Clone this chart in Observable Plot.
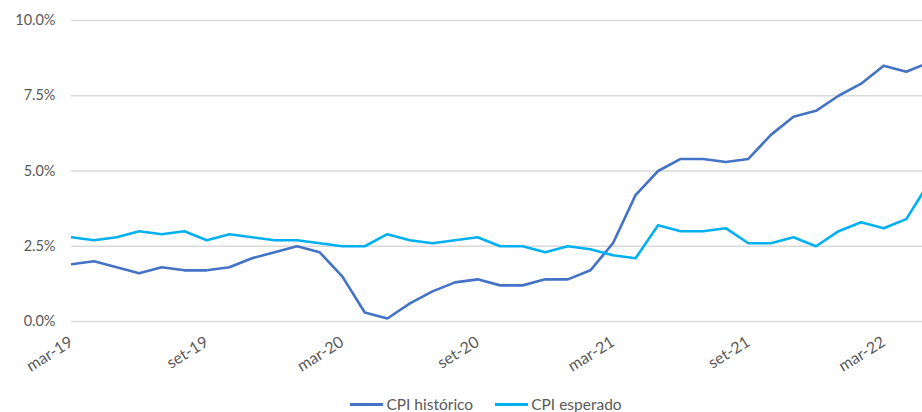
<!DOCTYPE html>
<html><head><meta charset="utf-8">
<script src="https://cdn.jsdelivr.net/npm/d3@7"></script>
<script src="https://cdn.jsdelivr.net/npm/@observablehq/plot@0.6"></script>
<style>
body{margin:0;background:#fff;font-family:Lato,"Open Sans",sans-serif;overflow:hidden;width:922px;height:412px}
#legend{display:flex;justify-content:center;align-items:center;gap:22px;margin-top:4px;height:20px;font-size:15.5px;color:#595959;padding-left:50px}
.item{display:flex;align-items:center;gap:3px}
.sw{display:inline-block;width:33px;height:3px}
</style></head><body><div id="chart"></div><div id="legend"></div>
<script>
const months = ["mar-19","abr-19","mai-19","jun-19","jul-19","ago-19","set-19","out-19","nov-19","dez-19",
"jan-20","fev-20","mar-20","abr-20","mai-20","jun-20","jul-20","ago-20","set-20","out-20","nov-20","dez-20",
"jan-21","fev-21","mar-21","abr-21","mai-21","jun-21","jul-21","ago-21","set-21","out-21","nov-21","dez-21",
"jan-22","fev-22","mar-22","abr-22","mai-22"];
const cpiHistorico = [1.9,2.0,1.8,1.6,1.8,1.7,1.7,1.8,2.1,2.3,2.5,2.3,1.5,0.3,0.1,0.6,1.0,1.3,1.4,1.2,1.2,1.4,1.4,1.7,2.6,4.2,5.0,5.4,5.4,5.3,5.4,6.2,6.8,7.0,7.5,7.9,8.5,8.3,8.6];
const cpiEsperado = [2.8,2.7,2.8,3.0,2.9,3.0,2.7,2.9,2.8,2.7,2.7,2.6,2.5,2.5,2.9,2.7,2.6,2.7,2.8,2.5,2.5,2.3,2.5,2.4,2.2,2.1,3.2,3.0,3.0,3.1,2.6,2.6,2.8,2.5,3.0,3.3,3.1,3.4,4.6];
const seriesNames = ["CPI histórico","CPI esperado"];
const seriesColors = ["#4472C4","#00B0F0"];
const yTicks = [0,2.5,5,7.5,10];
const xTickLabels = ["mar-19","set-19","mar-20","set-20","mar-21","set-21","mar-22"];

const data = months.flatMap((m,i)=>[
  {i, m, s:seriesNames[0], v:cpiHistorico[i]},
  {i, m, s:seriesNames[1], v:cpiEsperado[i]}
]);
const xTickIdx = xTickLabels.map(l=>months.indexOf(l));

const chart = Plot.plot({
  width:922, height:390,
  marginLeft:71, marginRight:0, marginTop:20, marginBottom:69,
  style:{fontFamily:"Lato, 'Open Sans', sans-serif", background:"#fff", fontSize:"14.5px"},
  x:{domain:[0,37.72]},
  y:{domain:[0,10]},
  color:{domain:seriesNames, range:seriesColors},
  marks:[
    Plot.gridY(yTicks,{stroke:"#d9d9d9",strokeOpacity:1,strokeWidth:1.5}),
    Plot.axisY(yTicks,{tickSize:0,tickPadding:16,tickFormat:d=>d.toFixed(1)+"%",fontSize:14.5,fill:"#595959",label:null}),
    Plot.axisX(xTickIdx,{tickSize:0,tickPadding:19,tickRotate:-32,tickFormat:i=>months[i],fontSize:16,fill:"#595959",label:null}),
    Plot.line(data,{x:"i",y:"v",z:"s",stroke:"s",strokeWidth:2.6,clip:true})
  ]
});
document.getElementById("chart").append(chart);

const lg = document.getElementById("legend");
seriesNames.forEach((n,k)=>{
  const it = document.createElement("span"); it.className="item";
  const sw = document.createElement("span"); sw.className="sw"; sw.style.background=seriesColors[k];
  const t = document.createElement("span"); t.textContent=n;
  it.append(sw,t); lg.append(it);
});
</script></body></html>
